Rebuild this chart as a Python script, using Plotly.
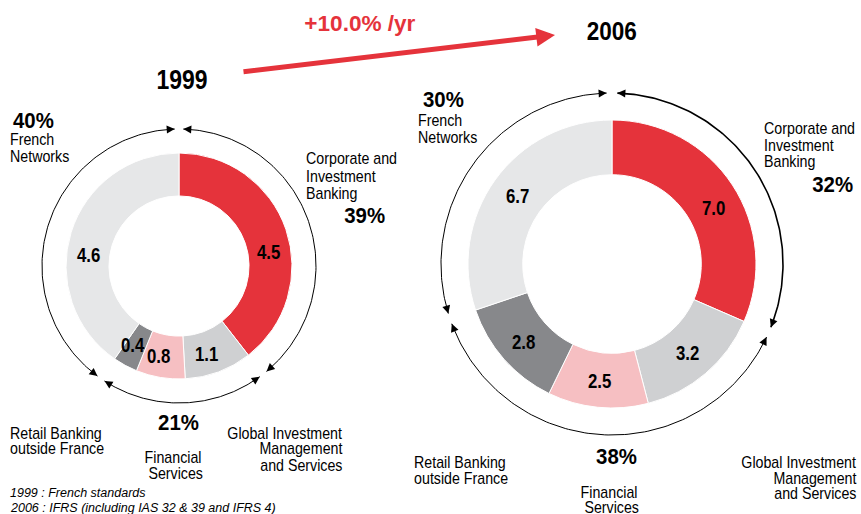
import math
import json
import plotly.graph_objects as go

# ---------------- data ----------------
segments = ["Corporate and Investment Banking", "Global Investment Management and Services",
            "Financial Services", "Retail Banking outside France", "French Networks"]
values_1999 = [4.5, 1.1, 0.8, 0.4, 4.6]
values_2006 = [7.0, 3.2, 2.5, 2.8, 6.7]
labels_1999 = ["4.5", "1.1", "0.8", "0.4", "4.6"]
labels_2006 = ["7.0", "3.2", "2.5", "2.8", "6.7"]
segment_group = [0, 1, 1, 1, 2]          # CIB / International Retail & FS / French Networks
group_pct_1999 = ["39%", "21%", "40%"]
group_pct_2006 = ["32%", "38%", "30%"]
years = ["1999", "2006"]
growth_label = "+10.0% /yr"
footnotes = ["1999 : French standards", "2006 : IFRS (including IAS 32 & 39 and IFRS 4)"]

# ---------------- style ----------------
W, H = 861, 514
colors = ["#E5333B", "#CFD0D2", "#F6BFC2", "#87888B", "#E6E7E8"]
RED = "#E5333B"
FONT = "Liberation Sans, Arial, Helvetica, sans-serif"
HOLE = 0.62
donuts = [
    dict(values=values_1999, labels=labels_1999, pct=group_pct_1999,
         cx=179, cy=266, r=113, R=137, shift=[10, 3, 3, 2, -10], arcw=[1.0, 1.0, 1.0]),
    dict(values=values_2006, labels=labels_2006, pct=group_pct_2006,
         cx=612, cy=264, r=144, R=171, shift=[4, 0, 0, 0, 0], arcw=[1.6, 1.0, 1.0]),
]

fig = go.Figure()
annotations = []
squeeze = []   # per annotation: [scaleX, origin] or None


def txt(s, x, y, anchor="left", size=16, color="black", bold=False, italic=False, sx=0.89):
    t = s
    if bold:
        t = "<b>" + t + "</b>"
    if italic:
        t = "<i>" + t + "</i>"
    annotations.append(dict(text=t, x=x, y=y, xref="x", yref="y", xanchor=anchor,
                            yanchor="middle", showarrow=False, borderpad=0,
                            font=dict(size=size, color=color, family=FONT)))
    squeeze.append([sx, anchor])


def pt(cx, cy, rad, deg):
    a = math.radians(deg)
    return cx + rad * math.sin(a), cy - rad * math.cos(a)


def arrow(tx, ty, bx, by, color, width, size):
    annotations.append(dict(text="", x=tx, y=ty, ax=bx, ay=by, xref="x", yref="y",
                            axref="x", ayref="y", showarrow=True, arrowhead=2,
                            arrowsize=size, arrowwidth=width, arrowcolor=color, standoff=0))
    squeeze.append(None)


NUM = dict(size=21, bold=True, sx=0.8)
PCT = dict(size=21.5, bold=True, sx=0.95)

for d in donuts:
    cx, cy, r = d["cx"], d["cy"], d["r"]
    fig.add_trace(go.Pie(
        values=d["values"], labels=segments, sort=False, direction="clockwise", rotation=0,
        hole=HOLE, textinfo="none", hoverinfo="skip", showlegend=False,
        marker=dict(colors=colors, line=dict(color="white", width=1)),
        domain=dict(x=[(cx - r) / W, (cx + r) / W], y=[1 - (cy + r) / H, 1 - (cy - r) / H]),
    ))
    total = sum(d["values"])
    cum = 0.0
    starts, ends = [], []
    for v, lab, sh in zip(d["values"], d["labels"], d["shift"]):
        a0 = cum / total * 360
        cum += v
        a1 = cum / total * 360
        starts.append(a0)
        ends.append(a1)
        mid = (a0 + a1) / 2 + sh
        lx, ly = pt(cx, cy, r * (1 + HOLE) / 2, mid)
        txt(lab, lx, ly, anchor="center", **NUM)
    # group arcs with arrowheads on both ends
    R = d["R"]
    gap = 1.8
    for g in range(3):
        idx = [i for i, s in enumerate(segment_group) if s == g]
        g0 = starts[idx[0]] + gap
        g1 = ends[idx[-1]] - gap
        n = 120
        xs, ys = [], []
        for k in range(n + 1):
            x, y = pt(cx, cy, R, g0 + (g1 - g0) * k / n)
            xs.append(x)
            ys.append(y)
        fig.add_trace(go.Scatter(x=xs, y=ys, mode="lines", hoverinfo="skip", showlegend=False,
                                 line=dict(color="black", width=d["arcw"][g])))
        dd = math.degrees(9 / R)
        for tip, tail in ((g1, g1 - dd), (g0, g0 + dd)):
            tx, ty = pt(cx, cy, R, tip)
            bx, by = pt(cx, cy, R, tail)
            arrow(tx, ty, bx, by, "black", 1, 1.6)

# ---------- texts, 1999 ----------
p = group_pct_1999
txt(p[2], 12, 121, **PCT)
txt("French", 9, 139)
txt("Networks", 9, 156)
txt("Corporate and", 305, 158)
txt("Investment", 305, 176)
txt("Banking", 305, 193)
txt(p[0], 386, 216, anchor="right", **PCT)
txt(p[1], 178, 423, anchor="center", **PCT)
txt("Financial", 173, 457, anchor="center")
txt("Services", 175, 473, anchor="center")
txt("Retail Banking", 9, 433)
txt("outside France", 9, 448)
txt("Global Investment", 344, 433, anchor="right")
txt("Management", 344, 448, anchor="right")
txt("and Services", 344, 465, anchor="right")

# ---------- texts, 2006 ----------
p = group_pct_2006
txt(p[2], 422, 100, **PCT)
txt("French", 417, 120)
txt("Networks", 417, 137)
txt("Corporate and", 763, 128)
txt("Investment", 763, 145)
txt("Banking", 763, 161)
txt(p[0], 854, 185, anchor="right", **PCT)
txt("Retail Banking", 413, 462)
txt("outside France", 413, 478)
txt(p[1], 616, 457, anchor="center", **PCT)
txt("Financial", 609, 492, anchor="center")
txt("Services", 611, 507, anchor="center")
txt("Global Investment", 858, 462, anchor="right")
txt("Management", 858, 478, anchor="right")
txt("and Services", 858, 493, anchor="right")

# ---------- header ----------
txt(years[0], 182, 80, anchor="center", size=27, bold=True, sx=0.85)
txt(years[1], 612, 31, anchor="center", size=25, bold=True, sx=0.9)
txt(growth_label, 360, 24, anchor="center", size=21.5, bold=True, color=RED, sx=1.05)
arrow(555, 35, 242, 72, RED, 5, 0.75)

# ---------- footnotes ----------
txt(footnotes[0], 9, 493, size=12.5, italic=True, sx=1.0)
txt(footnotes[1], 9, 508, size=12.5, italic=True, sx=1.0)

fig.update_layout(
    width=W, height=H, margin=dict(l=0, r=0, t=0, b=0),
    paper_bgcolor="white", plot_bgcolor="rgba(0,0,0,0)",
    xaxis=dict(range=[0, W], visible=False, fixedrange=True),
    yaxis=dict(range=[H, 0], visible=False, fixedrange=True),
    annotations=annotations, showlegend=False,
)

post = """
document.body.style.margin = '0';
document.body.style.overflow = 'hidden';
var gd = document.getElementById('{plot_id}');
var S = %s;
gd.querySelectorAll('g.annotation').forEach(function (g) {
  var s = S[+g.getAttribute('data-index')];
  if (!s) return;
  var t = g.querySelector('text.annotation-text');
  if (!t) return;
  t.style.transformBox = 'fill-box';
  t.style.transformOrigin = s[1] + ' center';
  t.style.transform = 'scaleX(' + s[0] + ')';
});
""" % json.dumps(squeeze)

fig.write_html("out.html", post_script=post, config={"staticPlot": True})
